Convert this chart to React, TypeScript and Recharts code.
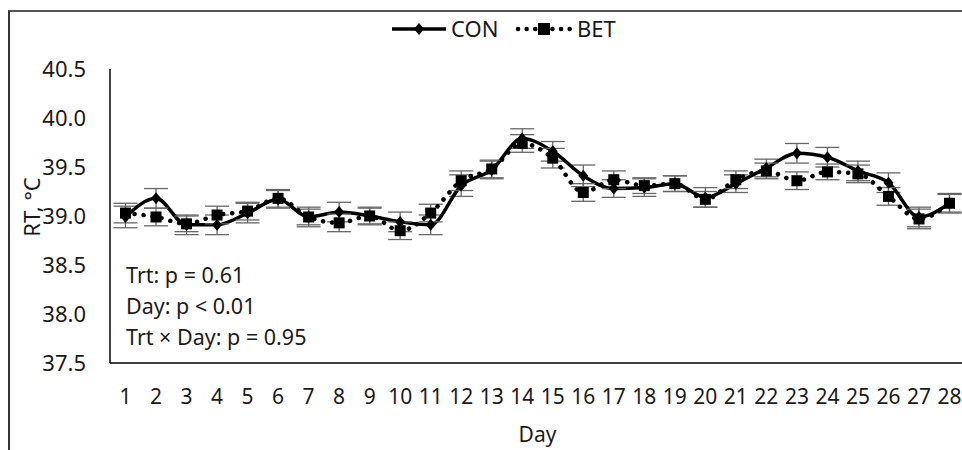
import React from "react";
import {
  ComposedChart,
  ErrorBar,
  Line,
  XAxis,
  YAxis,
} from "recharts";

const days = [
  1, 2, 3, 4, 5, 6, 7, 8, 9, 10, 11, 12, 13, 14, 15, 16, 17, 18, 19, 20, 21,
  22, 23, 24, 25, 26, 27, 28,
];

const con = [
  38.99, 39.18, 38.91, 38.91, 39.03, 39.17, 38.99, 39.04, 39.0, 38.94, 38.91,
  39.31, 39.47, 39.79, 39.66, 39.41, 39.28, 39.29, 39.33, 39.19, 39.33, 39.49,
  39.64, 39.6, 39.46, 39.34, 38.99, 39.13,
];

const bet = [
  39.03, 38.99, 38.92, 39.01, 39.05, 39.18, 38.99, 38.93, 39.0, 38.85, 39.03,
  39.36, 39.48, 39.74, 39.59, 39.24, 39.37, 39.31, 39.33, 39.17, 39.37, 39.46,
  39.36, 39.45, 39.43, 39.2, 38.97, 39.13,
];

const conSe = [
  0.11, 0.1, 0.1, 0.1, 0.1, 0.09, 0.1, 0.1, 0.09, 0.1, 0.1, 0.11, 0.09, 0.1,
  0.1, 0.11, 0.09, 0.09, 0.08, 0.1, 0.09, 0.09, 0.1, 0.1, 0.1, 0.1, 0.1, 0.1,
];

const betSe = [
  0.1, 0.09, 0.08, 0.09, 0.09, 0.09, 0.08, 0.09, 0.08, 0.09, 0.09, 0.1, 0.09,
  0.09, 0.1, 0.09, 0.09, 0.08, 0.08, 0.08, 0.09, 0.08, 0.09, 0.08, 0.09, 0.09,
  0.1, 0.09,
];

const yTicks = [37.5, 38.0, 38.5, 39.0, 39.5, 40.0, 40.5];

const stats = ["Trt: p = 0.61", "Day: p < 0.01", "Trt \u00d7 Day: p = 0.95"];

const data = days.map((d, i) => ({
  day: d,
  con: con[i],
  bet: bet[i],
  conSe: conSe[i],
  betSe: betSe[i],
}));

const FONT = "'Noto Sans', 'Open Sans', sans-serif";
const INK = "#1a1a1a";

const Diamond = (props: any) => {
  const { cx, cy, index } = props;
  if (cx == null || cy == null) return null;
  return (
    <path
      key={`con-${index}`}
      d={`M${cx},${cy - 6}L${cx + 5},${cy}L${cx},${cy + 6}L${cx - 5},${cy}Z`}
      fill="#000"
    />
  );
};

const Square = (props: any) => {
  const { cx, cy, index } = props;
  if (cx == null || cy == null) return null;
  return (
    <rect
      key={`bet-${index}`}
      x={cx - 5.5}
      y={cy - 5.5}
      width={11}
      height={11}
      fill="#000"
    />
  );
};

export default function App() {
  return (
    <div
      style={{
        position: "absolute",
        left: 0,
        top: 0,
        width: 962,
        height: 450,
        overflow: "hidden",
        background: "#fff",
        fontFamily: FONT,
        color: INK,
      }}
    >
      {/* frame */}
      <div
        style={{
          position: "absolute",
          left: 8,
          top: 10,
          width: 980,
          height: 460,
          borderLeft: "2px solid #333",
          borderTop: "2px solid #555",
        }}
      />

      {/* legend */}
      <svg
        width={962}
        height={50}
        style={{ position: "absolute", left: 0, top: 0 }}
      >
        <line x1={392} y1={29} x2={446} y2={29} stroke="#000" strokeWidth={3.5} />
        <path d="M419,23L424,29L419,35L414,29Z" fill="#000" />
        <text x={451} y={36.5} fontSize={22} fill={INK} fontFamily={FONT}>
          CON
        </text>
        <line
          x1={518}
          y1={29}
          x2={570}
          y2={29}
          stroke="#000"
          strokeWidth={4.5}
          strokeLinecap="round"
          strokeDasharray="0.1 8.5"
        />
        <rect x={538} y={23} width={12} height={12} fill="#000" />
        <text x={577} y={36.5} fontSize={22} fill={INK} fontFamily={FONT}>
          BET
        </text>
      </svg>

      <ComposedChart
        width={965}
        height={450}
        data={data}
        margin={{ top: 69, right: 0, bottom: 47, left: 50 }}
        style={{ position: "absolute", left: 0, top: 0, fontFamily: FONT }}
      >
        <XAxis
          dataKey="day"
          type="category"
          height={40}
          tickSize={0}
          tickMargin={26}
          padding={{ left: 15.5, right: 15.5 }}
          axisLine={{ stroke: "#000", strokeWidth: 1.5 }}
          tick={{ fill: INK, fontSize: 21 }}
          interval={0}
          label={{
            value: "Day",
            position: "bottom",
            offset: 24,
            fill: INK,
            fontSize: 21,
          }}
        />
        <YAxis
          width={60}
          domain={[37.5, 40.5]}
          ticks={yTicks}
          tickSize={0}
          tickMargin={24}
          tickFormatter={(v: number) => v.toFixed(1)}
          axisLine={{ stroke: "#000", strokeWidth: 1.5 }}
          tick={{ fill: INK, fontSize: 22 }}
          allowDataOverflow
        />
        <Line
          dataKey="con"
          type="monotone"
          stroke="#000"
          strokeWidth={3.5}
          dot={Diamond}
          activeDot={false}
          isAnimationActive={false}
        >
          <ErrorBar
            dataKey="conSe"
            width={12}
            strokeWidth={1.3}
            stroke="#666"
            direction="y"
          />
        </Line>
        <Line
          dataKey="bet"
          type="monotone"
          stroke="#000"
          strokeWidth={4.5}
          strokeLinecap="round"
          strokeDasharray="0.1 9"
          dot={Square}
          activeDot={false}
          isAnimationActive={false}
        >
          <ErrorBar
            dataKey="betSe"
            width={12}
            strokeWidth={1.3}
            stroke="#666"
            direction="y"
          />
        </Line>
      </ComposedChart>

      {/* y-axis title */}
      <div
        style={{
          position: "absolute",
          left: 31,
          top: 207,
          transform: "translate(-50%, -50%) rotate(-90deg)",
          whiteSpace: "nowrap",
          fontSize: 22,
        }}
      >
        RT, °C
      </div>

      {/* statistics */}
      <div
        style={{
          position: "absolute",
          left: 126,
          top: 259,
          fontSize: 21.5,
          lineHeight: "31px",
        }}
      >
        {stats.map((s) => (
          <div key={s}>{s}</div>
        ))}
      </div>
    </div>
  );
}
